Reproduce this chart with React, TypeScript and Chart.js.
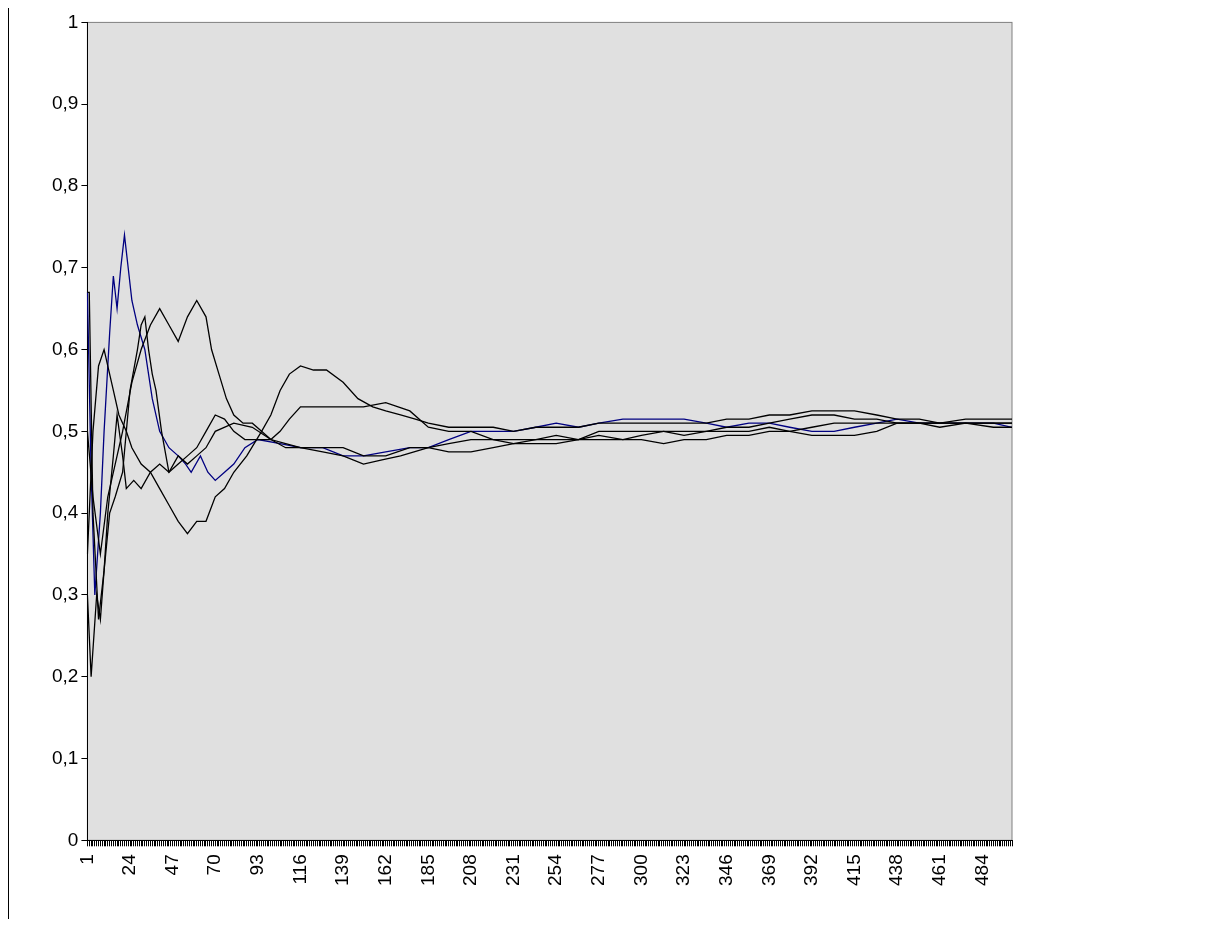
import React, { useEffect, useRef } from "react";
import { Chart, registerables } from "chart.js";
Chart.register(...registerables);

const N = 500;
const categories: string[] = Array.from({ length: N }, (_, i) => String(i + 1));
const tickLabels = ["1","24","47","70","93","116","139","162","185","208","231","254","277","300","323","346","369","392","415","438","461","484"];

const blueSeries: [number, number][] = [[1,0.67],[3,0.45],[5,0.3],[8,0.4],[10,0.5],[13,0.62],[15,0.69],[17,0.65],[19,0.7],[21,0.74],[23,0.7],[25,0.66],[28,0.63],[32,0.6],[36,0.54],[40,0.5],[45,0.48],[50,0.47],[54,0.46],[57,0.45],[62,0.47],[66,0.45],[70,0.44],[75,0.45],[80,0.46],[86,0.48],[93,0.49],[105,0.485],[116,0.48],[128,0.48],[139,0.47],[150,0.47],[162,0.475],[175,0.48],[185,0.48],[196,0.49],[208,0.5],[220,0.5],[231,0.5],[243,0.505],[254,0.51],[266,0.505],[277,0.51],[290,0.515],[300,0.515],[312,0.515],[323,0.515],[335,0.51],[346,0.505],[358,0.51],[369,0.51],[380,0.505],[392,0.5],[404,0.5],[415,0.505],[427,0.51],[438,0.515],[450,0.51],[461,0.51],[475,0.51],[490,0.51],[500,0.505]];
const blackA: [number, number][] = [[1,0.5],[4,0.42],[8,0.35],[12,0.42],[16,0.46],[20,0.5],[25,0.56],[30,0.6],[35,0.63],[40,0.65],[45,0.63],[50,0.61],[55,0.64],[60,0.66],[65,0.64],[68,0.6],[72,0.57],[76,0.54],[80,0.52],[85,0.51],[90,0.51],[95,0.5],[100,0.49],[108,0.485],[116,0.48],[128,0.475],[139,0.47],[150,0.46],[160,0.465],[170,0.47],[185,0.48],[196,0.485],[208,0.49],[220,0.49],[231,0.49],[243,0.49],[254,0.495],[266,0.49],[277,0.49],[290,0.49],[300,0.495],[312,0.5],[323,0.5],[335,0.5],[346,0.5],[358,0.5],[369,0.505],[380,0.5],[392,0.495],[404,0.495],[415,0.495],[427,0.5],[438,0.51],[450,0.51],[461,0.51],[475,0.515],[490,0.515],[500,0.515]];
const blackB: [number, number][] = [[1,0.35],[4,0.5],[7,0.58],[10,0.6],[13,0.57],[15,0.55],[18,0.52],[22,0.5],[25,0.48],[30,0.46],[35,0.45],[40,0.43],[45,0.41],[50,0.39],[55,0.375],[60,0.39],[65,0.39],[70,0.42],[75,0.43],[80,0.45],[87,0.47],[95,0.5],[100,0.52],[105,0.55],[110,0.57],[116,0.58],[123,0.575],[130,0.575],[139,0.56],[147,0.54],[155,0.53],[162,0.525],[170,0.52],[178,0.515],[185,0.51],[196,0.505],[208,0.505],[220,0.505],[231,0.5],[243,0.505],[254,0.505],[266,0.505],[277,0.51],[290,0.51],[300,0.51],[312,0.51],[323,0.51],[335,0.51],[346,0.515],[358,0.515],[369,0.52],[380,0.52],[392,0.525],[404,0.525],[415,0.525],[427,0.52],[438,0.515],[450,0.515],[461,0.51],[475,0.51],[490,0.505],[500,0.505]];
const blackC: [number, number][] = [[1,0.3],[3,0.2],[6,0.3],[8,0.27],[10,0.33],[13,0.4],[16,0.42],[20,0.45],[24,0.55],[28,0.6],[30,0.63],[32,0.64],[34,0.6],[36,0.57],[38,0.55],[41,0.5],[45,0.45],[50,0.46],[55,0.47],[60,0.48],[65,0.5],[70,0.52],[75,0.515],[80,0.5],[86,0.49],[93,0.49],[100,0.49],[105,0.5],[110,0.515],[116,0.53],[128,0.53],[139,0.53],[150,0.53],[162,0.535],[175,0.525],[185,0.505],[196,0.5],[208,0.5],[220,0.49],[231,0.485],[243,0.485],[254,0.485],[266,0.49],[277,0.5],[290,0.5],[300,0.5],[312,0.5],[323,0.495],[335,0.5],[346,0.505],[358,0.505],[369,0.51],[380,0.515],[392,0.52],[404,0.52],[415,0.515],[427,0.515],[438,0.51],[450,0.51],[461,0.51],[475,0.51],[490,0.51],[500,0.51]];
const blackD: [number, number][] = [[1,0.67],[2,0.67],[4,0.4],[7,0.27],[10,0.33],[12,0.4],[15,0.47],[17,0.52],[20,0.47],[22,0.43],[26,0.44],[30,0.43],[35,0.45],[40,0.46],[45,0.45],[50,0.47],[55,0.46],[60,0.47],[65,0.48],[70,0.5],[80,0.51],[90,0.505],[100,0.49],[108,0.48],[116,0.48],[128,0.48],[139,0.48],[150,0.47],[162,0.47],[175,0.48],[185,0.48],[196,0.475],[208,0.475],[220,0.48],[231,0.485],[243,0.49],[254,0.49],[266,0.49],[277,0.495],[290,0.49],[300,0.49],[312,0.485],[323,0.49],[335,0.49],[346,0.495],[358,0.495],[369,0.5],[380,0.5],[392,0.505],[404,0.51],[415,0.51],[427,0.51],[438,0.51],[450,0.51],[461,0.505],[475,0.51],[490,0.51],[500,0.51]];

function toArray(samples: [number, number][]): (number | null)[] {
  const arr: (number | null)[] = new Array(N).fill(null);
  for (const [i, v] of samples) arr[i - 1] = v;
  return arr;
}

const bgPlugin = {
  id: "plotBg",
  beforeDraw(chart: any) {
    const { ctx, chartArea: a } = chart;
    ctx.save();
    ctx.fillStyle = "#ffffff";
    ctx.fillRect(0, 0, chart.width, chart.height);
    ctx.fillStyle = "#e0e0e0";
    ctx.fillRect(a.left, a.top, a.right - a.left, a.bottom - a.top);
    ctx.strokeStyle = "#808080";
    ctx.lineWidth = 1;
    ctx.strokeRect(a.left, a.top, a.right - a.left, a.bottom - a.top);
    ctx.restore();
  },
};

export default function App() {
  const ref = useRef<HTMLCanvasElement>(null);
  useEffect(() => {
    const mk = (d: [number, number][], color: string) => ({
      data: toArray(d), borderColor: color, borderWidth: 1.3, pointRadius: 0, tension: 0, spanGaps: true,
    });
    const chart = new Chart(ref.current!, {
      type: "line",
      data: {
        labels: categories,
        datasets: [mk(blackA, "#000"), mk(blackB, "#000"), mk(blackC, "#000"), mk(blackD, "#000"), mk(blueSeries, "#000080")],
      },
      plugins: [bgPlugin],
      options: {
        animation: false,
        responsive: false,
        layout: { padding: { top: 13, right: 186, left: 40, bottom: 25 } },
        plugins: { legend: { display: false }, tooltip: { enabled: false } },
        scales: {
          x: {
            offset: false,
            grid: { drawOnChartArea: false, color: "#000", tickLength: 6 },
            border: { color: "#000" },
            ticks: {
              autoSkip: false, maxRotation: 90, minRotation: 90, color: "#000", padding: 8,
              font: { family: "Arial, Liberation Sans", size: 19 },
              callback: (_v: any, i: number) => (i % 23 === 0 ? tickLabels[i / 23] ?? String(i + 1) : ""),
            },
          },
          y: {
            min: 0, max: 1,
            grid: { drawOnChartArea: false, color: "#000", tickLength: 6 },
            border: { color: "#000" },
            ticks: {
              stepSize: 0.1, color: "#000",
              font: { family: "Arial, Liberation Sans", size: 19 },
              callback: (v: any) => (Math.round(v * 10) / 10).toString().replace(".", ","),
            },
          },
        },
      },
    });
    return () => chart.destroy();
  }, []);
  return (
    <div style={{ position: "relative", width: 1190, height: 911, borderLeft: "1px solid #000", boxSizing: "border-box" }}>
      <canvas ref={ref} width={1189} height={911} />
    </div>
  );
}
